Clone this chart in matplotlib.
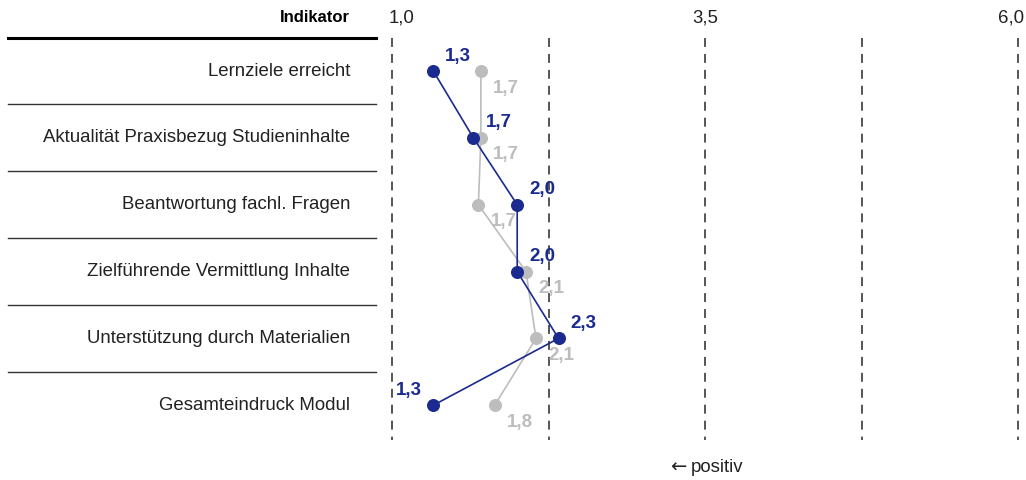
import numpy as np
import matplotlib.pyplot as plt
import matplotlib.transforms as mtransforms

plt.rcParams['font.family'] = ['Liberation Sans', 'DejaVu Sans']

indikatoren = ["Lernziele erreicht",
               "Aktualität Praxisbezug Studieninhalte",
               "Beantwortung fachl. Fragen",
               "Zielführende Vermittlung Inhalte",
               "Unterstützung durch Materialien",
               "Gesamteindruck Modul"]
aktuell = [1.33, 1.65, 2.0, 2.0, 2.33, 1.33]
aktuell_txt = ["1,3", "1,7", "2,0", "2,0", "2,3", "1,3"]
vergleich = [1.71, 1.71, 1.69, 2.07, 2.15, 1.82]
vergleich_txt = ["1,7", "1,7", "1,7", "2,1", "2,1", "1,8"]
ticks = [1.0, 3.5, 6.0]
tick_txt = ["1,0", "3,5", "6,0"]
gitter = [1.0, 2.25, 3.5, 4.75, 6.0]

blau = '#1b2a8f'
grau = '#bdbdbd'
fs = 13.4

W, H = 1026, 480
fig = plt.figure(figsize=(W / 100, H / 100), dpi=100)
# axes in pixel terms: x 392..1018, y 37.6..440
ax = fig.add_axes([392 / W, 1 - 440 / H, (1018 - 392) / W, (440 - 37.6) / H])
ax.set_xlim(1.0, 6.0)
ax.set_ylim(5.52, -0.5)
ax.axis('off')

y = np.arange(len(indikatoren))

for g in gitter:
    ax.plot([g, g], [-0.5, 5.52], color='#555555', lw=1.4,
            dashes=(4.6, 3.6), clip_on=False, zorder=1)

ax.plot(vergleich, y, color=grau, lw=1.2, zorder=2)
ax.scatter(vergleich, y, s=70, color=grau, zorder=3, clip_on=False)
ax.plot(aktuell, y, color=blau, lw=1.2, zorder=4)
ax.scatter(aktuell, y, s=70, color=blau, zorder=5, clip_on=False)

for i in range(len(y)):
    ax.annotate(vergleich_txt[i], (vergleich[i], y[i]), xytext=(12, -17),
                textcoords='offset pixels', color=grau, fontsize=13.5,
                fontweight='bold', ha='left', va='center')
    if i == len(y) - 1:
        off, ha = (-11, 15), 'right'
    else:
        off, ha = (12, 15), 'left'
    ax.annotate(aktuell_txt[i], (aktuell[i], y[i]), xytext=off,
                textcoords='offset pixels', color=blau, fontsize=13.5,
                fontweight='bold', ha=ha, va='center')

# top tick labels
trans_top = mtransforms.blended_transform_factory(ax.transData, fig.transFigure)
for t, s in zip(ticks, tick_txt):
    ha = 'center'
    dx = 0
    if t == ticks[0]:
        ha, dx = 'left', -0.03
    elif t == ticks[-1]:
        ha, dx = 'right', 0.05
    ax.text(t + dx, 1 - 18 / H, s, transform=trans_top, ha=ha, va='center',
            fontsize=fs, color='#222222')

# left table
trans_left = mtransforms.blended_transform_factory(fig.transFigure, ax.transData)
fig.text(350 / W, 1 - 18 / H, "Indikator", ha='right', va='center',
         fontsize=12, fontweight='bold', color='black')
ax.plot([8 / W, 376 / W], [-0.5, -0.5], transform=trans_left, color='black',
        lw=2.2, clip_on=False)
for i, name in enumerate(indikatoren):
    ax.text(350 / W, y[i], name, transform=trans_left, ha='right', va='center',
            fontsize=fs, color='#222222')
    if i < len(indikatoren) - 1:
        ax.plot([8 / W, 376 / W], [i + 0.5, i + 0.5], transform=trans_left,
                color='#333333', lw=1.0, clip_on=False)

fig.text(686 / W, 1 - 467 / H, "←", ha='right', va='center',
         fontsize=14, color='#222222', family=['DejaVu Sans'])
fig.text(691 / W, 1 - 467 / H, "positiv", ha='left', va='center',
         fontsize=fs, color='#222222')

fig.savefig('out.png', dpi=100)
